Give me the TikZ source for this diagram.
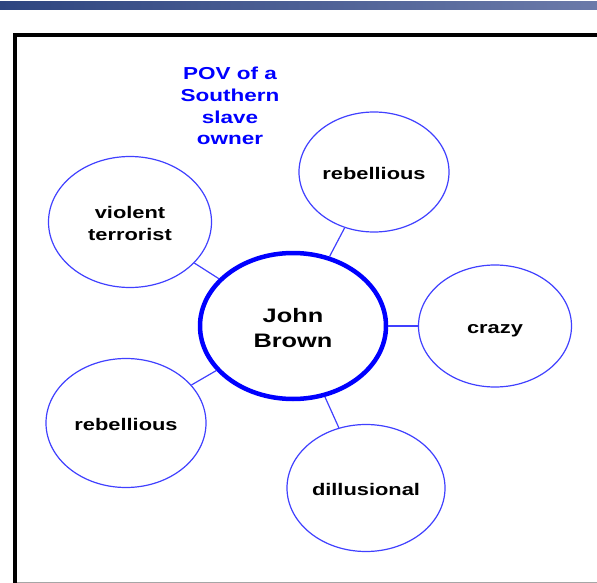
\documentclass[tikz,border=0pt]{standalone}
\usepackage{fontspec}
\setmainfont[FakeStretch=1.3]{Liberation Sans}
\usetikzlibrary{shapes.geometric}

\definecolor{barleft}{HTML}{2E4580}
\definecolor{barright}{HTML}{6B7AA9}
\definecolor{ideablue}{HTML}{4040FF}

% lines of a bubble, set a little low as in the slide
\newcommand{\bubbletext}[1]{\raisebox{-3.5pt}[\height][\depth]{\begin{tabular}{@{}c@{}}#1\end{tabular}}}

\begin{document}
\begin{tikzpicture}[x=1pt, y=-1pt]
	\tikzset{
		idea/.style={
			ellipse,
			draw=ideablue,
			line width=1.2pt,
			inner sep=0pt,
			font=\bfseries\fontsize{16.8}{22}\selectfont
		},
		hub/.style={
			idea,
			draw=blue,
			line width=4.5pt,
			font=\bfseries\fontsize{19.5}{25}\selectfont
		},
		link/.style={draw=ideablue, line width=1.2pt},
	}

	\useasboundingbox (0,0) rectangle (597,583);

	% slide bar and frame
	\shade[left color=barleft, right color=barright] (0,2) rectangle (597,10);
	\draw[black!35, line width=1pt] (15,582.5) -- (597,582.5);
	\draw[line width=4pt] (15,583) -- (15,35) -- (597,35);

	\node[align=center, text=blue, font=\bfseries\fontsize{17.3}{21.7}\selectfont] (pov) at (230,106) {POV of a\\Southern\\slave\\owner};

	\node[hub, minimum width=186, minimum height=146] (jb) at (293,326) {\bubbletext{John\\Brown}};
	\node[idea, minimum width=150, minimum height=120] (reb1) at (374,172) {\bubbletext{rebellious}};
	\node[idea, minimum width=163, minimum height=131] (vt) at (130,222) {\bubbletext{violent\\terrorist}};
	\node[idea, minimum width=153, minimum height=122] (cr) at (495,326) {\bubbletext{crazy}};
	\node[idea, minimum width=160, minimum height=129] (reb2) at (126,423) {\bubbletext{rebellious}};
	\node[idea, minimum width=158, minimum height=127] (dil) at (366,488) {\bubbletext{dillusional}};

	\draw[link] (vt) -- (jb);
	\draw[link] (reb1) -- (jb);
	\draw[link] (cr) -- (jb);
	\draw[link] (reb2) -- (jb);
	\draw[link] (dil) -- (jb);
\end{tikzpicture}
\end{document}
